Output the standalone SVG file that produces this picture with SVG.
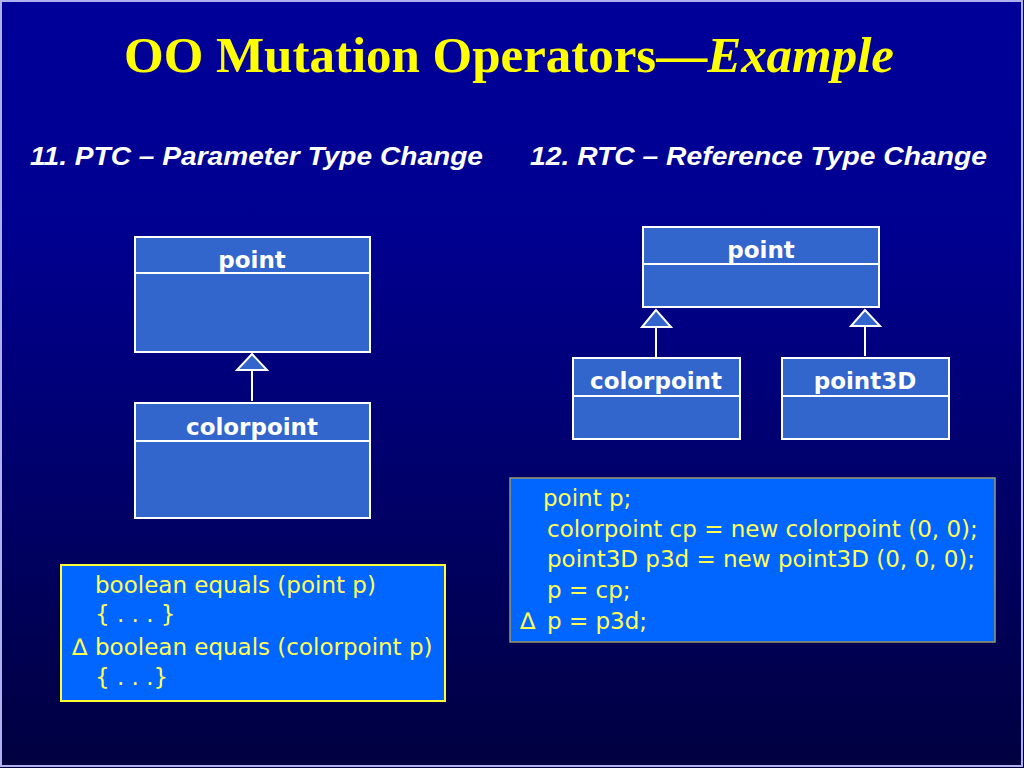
<svg xmlns="http://www.w3.org/2000/svg" width="1024" height="768" viewBox="0 0 1024 768">
<defs>
<linearGradient id="bg" x1="0" y1="0" x2="0" y2="1">
<stop offset="0" stop-color="#000099"/>
<stop offset="0.3" stop-color="#000090"/>
<stop offset="1" stop-color="#000040"/>
</linearGradient>
<style>
.cls{fill:#3366CC;stroke:#FFFFFF;stroke-width:2}
.div{stroke:#FFFFFF;stroke-width:2}
.nm{font-family:"DejaVu Sans","Liberation Sans",sans-serif;font-weight:bold;font-size:23px;fill:#FFFFFF;text-anchor:middle}
.tri{fill:#3366CC;stroke:#FFFFFF;stroke-width:2;stroke-linejoin:miter}
.ln{stroke:#FFFFFF;stroke-width:2}
.code{font-family:"DejaVu Sans","Liberation Sans",sans-serif;font-size:23px;fill:#FFFF55}
.sub{font-family:"Liberation Sans",Arial,sans-serif;font-weight:bold;font-style:italic;font-size:25px;fill:#FFFFFF}
</style>
</defs>
<rect x="0" y="0" width="1024" height="768" fill="url(#bg)"/>
<rect x="1" y="1" width="1021" height="765" fill="none" stroke="#B0B0F0" stroke-width="2"/>
<text x="509" y="72" text-anchor="middle" font-family="Liberation Serif,'Times New Roman',serif" font-weight="bold" font-size="50" fill="#FFFF00" textLength="770" lengthAdjust="spacingAndGlyphs">OO Mutation Operators—<tspan font-style="italic">Example</tspan></text>
<text class="sub" x="30" y="165" textLength="453" lengthAdjust="spacingAndGlyphs">11. PTC – Parameter Type Change</text>
<text class="sub" x="530" y="165" textLength="457" lengthAdjust="spacingAndGlyphs">12. RTC – Reference Type Change</text>
<g id="connectors">
<line class="ln" x1="252" y1="370" x2="252" y2="401"/>
<polygon class="tri" points="252,354 237,370 267,370"/>
<line class="ln" x1="656" y1="327" x2="656" y2="357"/>
<polygon class="tri" points="656,310 642,327 671,327"/>
<line class="ln" x1="865" y1="326" x2="865" y2="356"/>
<polygon class="tri" points="865,310 851,326 880,326"/>
</g>
<g id="point-left">
<rect class="cls" x="135" y="237" width="235" height="115"/>
<line class="div" x1="135" y1="273" x2="370" y2="273"/>
<text class="nm" x="252" y="268">point</text>
</g>
<g id="colorpoint-left">
<rect class="cls" x="135" y="403" width="235" height="115"/>
<line class="div" x1="135" y1="441" x2="370" y2="441"/>
<text class="nm" x="252" y="435">colorpoint</text>
</g>
<g id="point-right">
<rect class="cls" x="643" y="227" width="236" height="80"/>
<line class="div" x1="643" y1="264" x2="879" y2="264"/>
<text class="nm" x="761" y="258">point</text>
</g>
<g id="colorpoint-right">
<rect class="cls" x="573" y="358" width="167" height="81"/>
<line class="div" x1="573" y1="396" x2="740" y2="396"/>
<text class="nm" x="656" y="389">colorpoint</text>
</g>
<g id="point3D">
<rect class="cls" x="782" y="358" width="167" height="81"/>
<line class="div" x1="782" y1="396" x2="949" y2="396"/>
<text class="nm" x="865" y="389">point3D</text>
</g>
<g id="code-left">
<rect x="61" y="565" width="384" height="136" fill="#0066FF" stroke="#FFFF33" stroke-width="2"/>
<text class="code" x="95" y="593">boolean equals (point p)</text>
<text class="code" x="95" y="622">{ . . . }</text>
<text class="code" x="72" y="655" font-family="Liberation Serif,serif" font-size="22">∆</text>
<text class="code" x="95" y="655">boolean equals (colorpoint p)</text>
<text class="code" x="95" y="685">{ . . .}</text>
</g>
<g id="code-right">
<rect x="510" y="478" width="485" height="164" fill="#0066FF" stroke="#99996A" stroke-width="1.5"/>
<text class="code" x="543" y="506">point p;</text>
<text class="code" x="547" y="537">colorpoint cp = new colorpoint (0, 0);</text>
<text class="code" x="547" y="567">point3D p3d = new point3D (0, 0, 0);</text>
<text class="code" x="547" y="598">p = cp;</text>
<text class="code" x="520" y="629" font-family="Liberation Serif,serif" font-size="22">∆</text>
<text class="code" x="547" y="629">p = p3d;</text>
</g>
</svg>
